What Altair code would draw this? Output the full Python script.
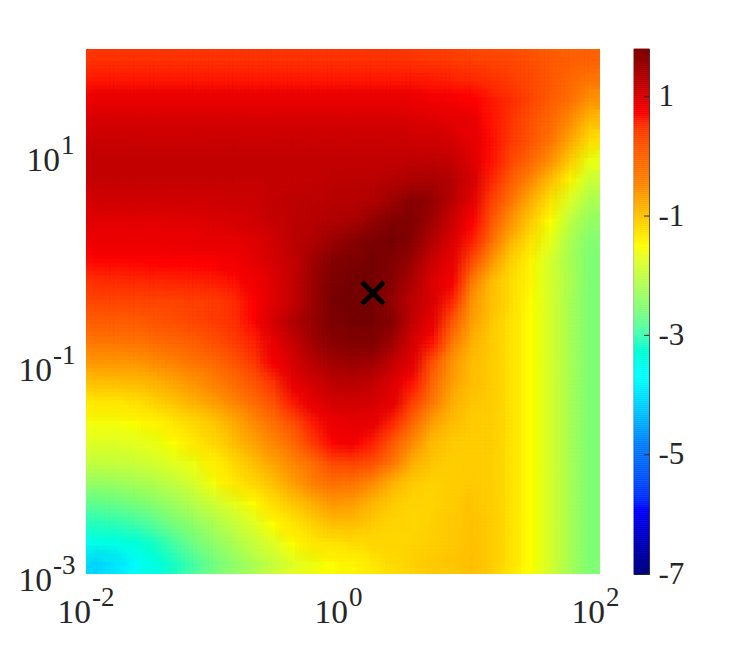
import altair as alt
import numpy as np
import pandas as pd

GRID = [
 [.45]*16 + [.43,.4,.37,.33,.28,.22,.15,.05,-.02,-.05],
 [.62]*16 + [.62,.6,.57,.52,.45,.36,.22,.06,-.13,-.33],
 [.8]*16 + [.78,.76,.74,.7,.62,.48,.28,.04,-.25,-.6],
 [.96]*16 + [.95,.92,.87,.79,.64,.43,.15,-.15,-.55,-.95],
 [1.08]*16 + [1.07,1.03,.98,.86,.66,.4,.1,-.3,-.78,-1.25],
 [1.15]*16 + [1.17,1.18,1.13,.94,.65,.28,-.12,-.58,-1.08,-1.6],
 [1.14]*11 + [1.16,1.18,1.2,1.22,1.27,1.33,1.38,1.28,1.0,.55,0,-.52,-1.0,-1.45,-1.9],
 [1.02,1.02,1.02,1.02,1.03,1.04,1.05,1.08,1.1,1.16,1.2,1.22,1.23,1.26,1.3,1.45,1.65,1.55,1.25,.88,.35,-.3,-.85,-1.3,-1.75,-2.15],
 [.9,.9,.9,.9,.91,.92,.95,.98,1.03,1.12,1.2,1.25,1.3,1.38,1.55,1.72,1.72,1.45,1.1,.72,.1,-.6,-1.1,-1.5,-2.0,-2.35],
 [.78,.78,.78,.78,.79,.8,.82,.85,.92,1.05,1.22,1.3,1.5,1.65,1.78,1.8,1.65,1.3,.95,.6,-.2,-.9,-1.3,-1.65,-2.15,-2.5],
 [.68,.68,.68,.69,.7,.71,.72,.76,.88,1.0,1.15,1.45,1.7,1.78,1.8,1.72,1.5,1.1,.85,.25,-.6,-1.15,-1.45,-1.8,-2.2,-2.55],
 [.48,.5,.52,.54,.56,.58,.6,.65,.76,.93,1.15,1.5,1.78,1.8,1.8,1.65,1.35,.95,.75,-.35,-.95,-1.25,-1.45,-1.8,-2.15,-2.55],
 [.27,.27,.28,.29,.31,.34,.39,.5,.7,.92,1.15,1.5,1.8,1.8,1.8,1.55,1.2,.95,.55,-.6,-1.0,-1.25,-1.48,-1.8,-2.2,-2.55],
 [0,0,.03,.1,.2,.28,.36,.47,.68,1.0,1.3,1.55,1.78,1.8,1.8,1.65,1.15,.85,.1,-.7,-1.05,-1.3,-1.5,-1.8,-2.2,-2.55],
 [-.35,-.35,-.3,-.2,-.1,0,.18,.36,.56,.85,1.15,1.45,1.65,1.72,1.72,1.45,1.0,.65,-.35,-.85,-1.1,-1.3,-1.5,-1.8,-2.2,-2.55],
 [-.65,-.65,-.62,-.55,-.45,-.3,-.15,.1,.42,.75,1.0,1.25,1.45,1.5,1.45,1.15,.9,.2,-.6,-.95,-1.1,-1.3,-1.5,-1.8,-2.2,-2.55],
 [-1,-1,-.95,-.88,-.75,-.6,-.45,-.22,.1,.45,.85,1.02,1.2,1.25,1.15,.95,.65,-.1,-.7,-1.0,-1.1,-1.3,-1.5,-1.8,-2.2,-2.55],
 [-1.35,-1.35,-1.28,-1.15,-1.03,-.87,-.7,-.5,-.2,.15,.62,.85,1.0,1.02,.98,.85,.35,-.35,-.85,-1.05,-1.1,-1.3,-1.5,-1.8,-2.2,-2.55],
 [-1.55,-1.55,-1.52,-1.45,-1.32,-1.2,-1.05,-.8,-.55,-.25,.2,.62,.78,.86,.8,.55,-.1,-.7,-.98,-1.1,-1.12,-1.3,-1.5,-1.8,-2.2,-2.55],
 [-1.72,-1.72,-1.68,-1.6,-1.5,-1.38,-1.2,-1.0,-.75,-.5,-.15,.38,.68,.75,.58,.05,-.55,-.95,-1.1,-1.12,-1.12,-1.3,-1.5,-1.8,-2.2,-2.55],
 [-1.95,-1.92,-1.9,-1.8,-1.68,-1.58,-1.42,-1.2,-1.0,-.75,-.5,-.2,.25,.3,.15,-.35,-.85,-1.05,-1.12,-1.1,-1.12,-1.3,-1.5,-1.8,-2.2,-2.55],
 [-2.35,-2.3,-2.2,-2.1,-1.95,-1.78,-1.55,-1.38,-1.2,-1.0,-.72,-.45,-.25,-.3,-.55,-.88,-1.1,-1.15,-1.12,-1.08,-1.12,-1.3,-1.5,-1.8,-2.2,-2.55],
 [-2.75,-2.7,-2.6,-2.45,-2.28,-2.05,-1.85,-1.65,-1.48,-1.25,-1.05,-.85,-.65,-.7,-.92,-1.1,-1.18,-1.18,-1.12,-1.05,-1.12,-1.3,-1.5,-1.8,-2.2,-2.55],
 [-3.1,-3.05,-2.95,-2.8,-2.6,-2.38,-2.15,-1.92,-1.72,-1.5,-1.32,-1.15,-1.0,-1.0,-1.1,-1.18,-1.2,-1.15,-1.08,-1.03,-1.1,-1.3,-1.5,-1.8,-2.2,-2.55],
 [-3.55,-3.5,-3.38,-3.15,-2.9,-2.65,-2.4,-2.15,-1.92,-1.72,-1.52,-1.38,-1.32,-1.25,-1.22,-1.22,-1.18,-1.12,-1.08,-1.02,-1.1,-1.3,-1.5,-1.8,-2.2,-2.55],
 [-4.05,-3.9,-3.72,-3.45,-3.15,-2.9,-2.65,-2.4,-2.15,-1.92,-1.72,-1.58,-1.5,-1.45,-1.35,-1.25,-1.15,-1.08,-1.05,-1.0,-1.1,-1.3,-1.5,-1.8,-2.2,-2.55],
]
assert all(len(r) == 26 for r in GRID) and len(GRID) == 26

X_EXP = [-2, 0, 2]
X_SUP = ["-2", "0", "2"]
Y_EXP = [-3, -1, 1]
Y_SUP = ["-3", "-1", "1"]
MARK_X = [0.233]
MARK_Y = [-0.324]
CBAR_TICKS = [-7, -5, -3, -1, 1]
JET = ["#00007f", "#0000ff", "#007fff", "#00ffff", "#7fff7f",
       "#ffff00", "#ff7f00", "#ff0000", "#7f0000"]

VMIN, VMAX = -7.0, 1.8
XMIN, XMAX = -2, 2
YMIN, YMAX = -3, 2
W, H = 514, 525
INK = "#262626"
FONT = "Liberation Serif"

ny, nx = len(GRID), len(GRID[0])
DX = (XMAX - XMIN) / nx
DY = (YMAX - YMIN) / ny
rows = []
for j, row in enumerate(GRID):
    for i, v in enumerate(row):
        rows.append({"x0": XMIN + DX * i, "x1": XMIN + DX * (i + 1),
                     "y0": YMAX - DY * j, "y1": YMAX - DY * (j + 1), "v": v})
cells = pd.DataFrame(rows)

stops = list(np.linspace(VMIN, VMAX, len(JET)))
cscale = alt.Scale(domain=stops, range=JET, clamp=True)
xs = alt.Scale(domain=[XMIN, XMAX], nice=False, zero=False)
ys = alt.Scale(domain=[YMIN, YMAX], nice=False, zero=False)


def heat_layer(fx, fy, opacity, stroked):
    """The same typed cells, slid by part of a cell; stacked see-through copies soften the block edges."""
    kw = {"strokeWidth": 0.6} if stroked else {"strokeWidth": 0}
    enc = dict(
        x=alt.X("a0:Q", scale=xs, axis=None),
        x2="a1:Q",
        y=alt.Y("b0:Q", scale=ys, axis=None),
        y2="b1:Q",
        color=alt.Color("v:Q", scale=cscale, legend=None),
    )
    if stroked:
        enc["stroke"] = alt.Stroke("v:Q", scale=cscale, legend=None)
    return alt.Chart(cells).transform_calculate(
        a0=f"datum.x0 + {fx * DX}", a1=f"datum.x1 + {fx * DX}",
        b0=f"datum.y0 + {fy * DY}", b1=f"datum.y1 + {fy * DY}",
    ).mark_rect(clip=True, opacity=opacity, **kw).encode(**enc)


SLIDES = [-0.4, -0.2, 0.0, 0.2, 0.4]
pairs = [(0.0, 0.0)] + [(a, b) for a in SLIDES for b in SLIDES if (a, b) != (0.0, 0.0)]
heat_layers = [heat_layer(a, b, 1 / (k + 1), k == 0) for k, (a, b) in enumerate(pairs)]

marker = alt.Chart(pd.DataFrame({"x": MARK_X, "y": MARK_Y})).mark_point(
    shape="M-1,-1L1,1M-1,1L1,-1", size=480, stroke="black", strokeWidth=4.8,
    filled=False, opacity=1,
).encode(x=alt.X("x:Q", scale=xs, axis=None), y=alt.Y("y:Q", scale=ys, axis=None))


def xlabels(col, size, dx, dy, align):
    d = pd.DataFrame({"e": X_EXP, "t": X_SUP, "b": ["10"] * 3, "y": [YMIN] * 3})
    return alt.Chart(d).mark_text(font=FONT, fontSize=size, color=INK, align=align,
                                  baseline="alphabetic", dx=dx, dy=dy).encode(
        x=alt.X("e:Q", scale=xs, axis=None),
        y=alt.Y("y:Q", scale=ys, axis=None),
        text=f"{col}:N",
    )


def ylabels(col, size, sel, px, dy, align):
    d = pd.DataFrame({"e": [Y_EXP[k] for k in sel], "t": [Y_SUP[k] for k in sel],
                      "b": ["10"] * len(sel)})
    return alt.Chart(d).mark_text(font=FONT, fontSize=size, color=INK, align=align,
                                  baseline="alphabetic", dy=dy).encode(
        x=alt.value(px),
        y=alt.Y("e:Q", scale=ys, axis=None),
        text=f"{col}:N",
    )


main = alt.layer(
    *heat_layers, marker,
    xlabels("b", 33.5, 5, 49, "right"),
    xlabels("t", 27, 6, 32, "left"),
    ylabels("b", 33.5, [0, 1], -34, 17, "right"),
    ylabels("t", 27, [0, 1], -33, 0, "left"),
    ylabels("b", 33.5, [2], -26, 17, "right"),
    ylabels("t", 27, [2], -25, 0, "left"),
).properties(width=W, height=H, view=alt.ViewConfig(strokeWidth=0, stroke=None))

levels = np.linspace(VMIN, VMAX, 264)
bar_df = pd.DataFrame({"a": levels[:-1], "b": levels[1:], "v": (levels[:-1] + levels[1:]) / 2})
cys = alt.Scale(domain=[VMIN, VMAX], nice=False, zero=False)

bar = alt.Chart(bar_df).mark_rect(strokeWidth=0.5).encode(
    y=alt.Y("a:Q", scale=cys, title=None,
            axis=alt.Axis(orient="right", values=CBAR_TICKS, tickSize=0, domain=False,
                          grid=False, labelFont=FONT, labelFontSize=31, labelColor=INK,
                          labelPadding=9, labelBaseline="middle", labelFlush=False,
                          labelOverlap=False, labelExpr="'' + datum.value")),
    y2="b:Q",
    color=alt.Color("v:Q", scale=cscale, legend=None),
    stroke=alt.Stroke("v:Q", scale=cscale, legend=None),
)
ticks = alt.Chart(pd.DataFrame({"t": CBAR_TICKS})).mark_rule(color=INK, strokeWidth=1).encode(
    y=alt.Y("t:Q", scale=cys),
    x=alt.value(10),
    x2=alt.value(15),
)
cbar = alt.layer(bar, ticks).properties(
    width=15, height=H, view=alt.ViewConfig(stroke=INK, strokeWidth=1.2)
)

chart = alt.hconcat(main, cbar, spacing=13).properties(
    padding={"left": 10, "top": 40, "right": 5, "bottom": 5},
    background="white",
).resolve_scale(color="independent", stroke="independent", x="independent", y="independent")

chart.save("out.html", embed_options={"renderer": "svg", "actions": False})
